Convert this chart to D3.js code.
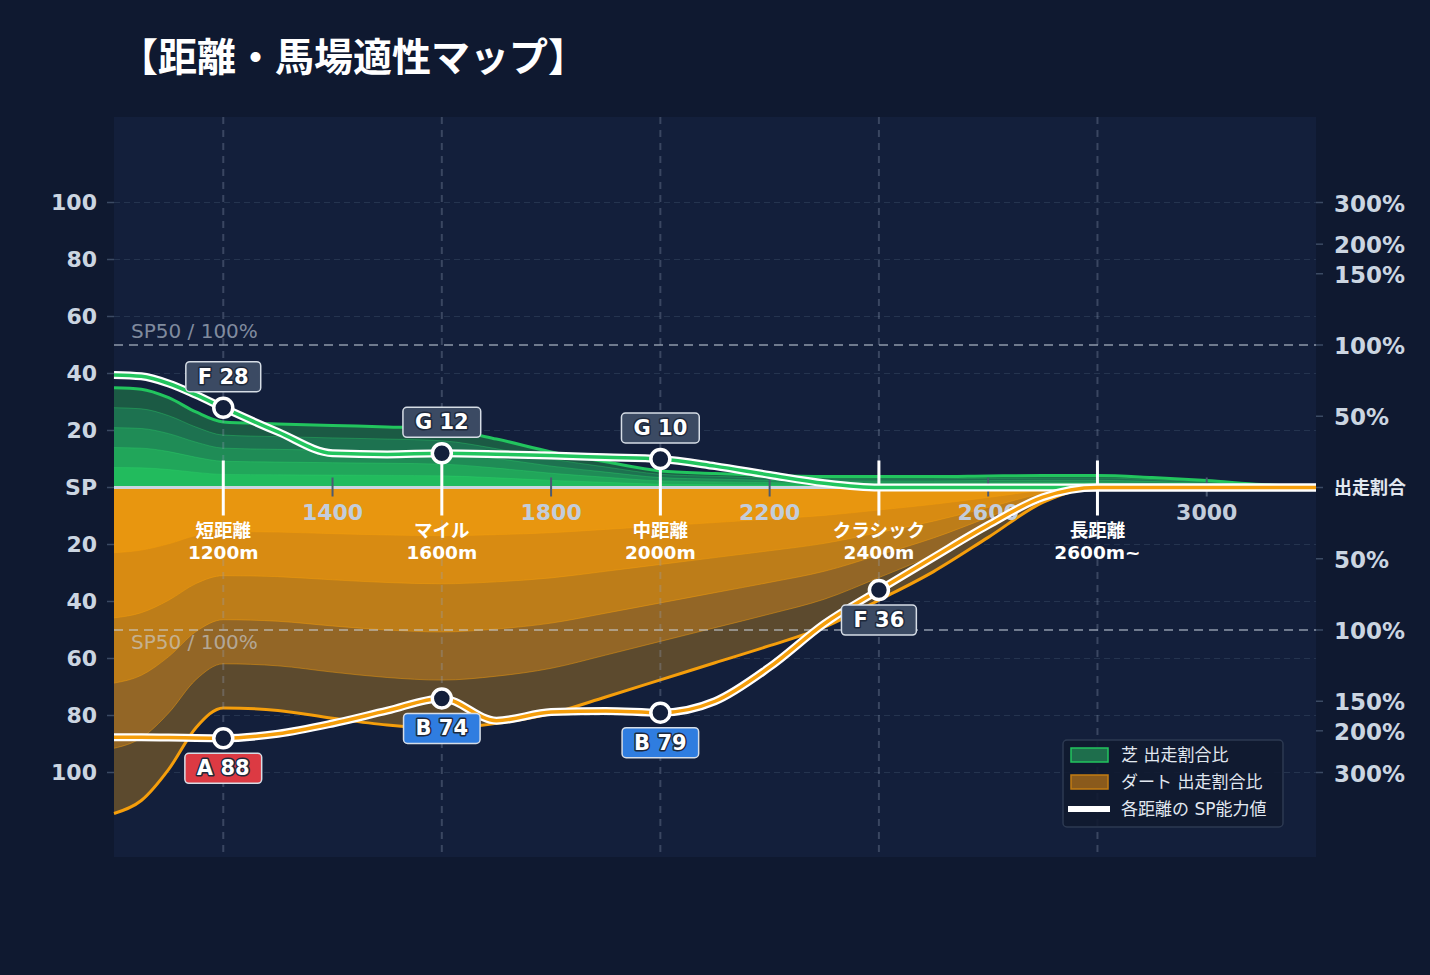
<!DOCTYPE html>
<html>
<head>
<meta charset="utf-8">
<script src="https://cdn.jsdelivr.net/npm/d3@7"></script>
<style>
body { margin: 0; background: #0f1930; }
svg { display: block; font-family: "DejaVu Sans", "Noto Sans CJK JP", sans-serif; }
</style>
</head>
<body>
<svg id="chart" width="1430" height="975"></svg>
<script>
// DATA
const distances = [1000, 1050, 1100, 1150, 1200, 1300, 1400, 1500, 1600, 1700, 1800, 1900, 2000,
                   2100, 2200, 2300, 2400, 2500, 2600, 2700, 2800, 2900, 3000, 3100, 3200]
// 出走割合比 (%)
const turfShare = [70, 69, 63, 53, 46, 44.6, 43.5, 42.5, 41, 34, 25, 18, 11.6,
                   9.8, 8.4, 7.7, 7.7, 7.7, 8.1, 8.4, 8.4, 7, 4.9, 2.1, 0.4]
const dirtShare = [447, 394, 291, 194, 160, 164, 177, 189, 195, 186, 169, 147, 135,
                   123, 111, 98, 79, 59, 35, 10.5, 0, 0, 0, 0, 0]
// SP能力値
const turfSP = [39.5, 39, 36.5, 32.5, 28, 19.5, 12, 11.6, 12, 11.7, 11.2, 10.6, 10,
                7.5, 4.4, 1.5, 0, 0, 0, 0, 0, 0, 0, 0, 0]
const dirtSP = [87.6, 87.6, 87.7, 87.9, 88, 86.4, 82.8, 78.3, 74, 81.8, 78.8, 78.4, 79,
                75, 63, 47.8, 36, 24.5, 13.2, 3.4, 0, 0, 0, 0, 0]

const categories = ["短距離", "マイル", "中距離", "クラシック", "長距離"]
const categorySub = ["1200m", "1600m", "2000m", "2400m", "2600m~"]
const categoryDist = [1200, 1600, 2000, 2400, 2800]
const turfGrade = ["F", "G", "G", "", ""]
const dirtGrade = ["A", "B", "B", "F", ""]

const xTicks = [1400, 1800, 2200, 2600, 3000]
const spTicks = [100, 80, 60, 40, 20, 0, -20, -40, -60, -80, -100]
const pctTicks = [300, 200, 150, 100, 50]

// LAYOUT
const W = 1430, H = 975
const plot = { left: 114, right: 1316, top: 117, bottom: 857 }

const x = d3.scaleLinear().domain([1000, 3200]).range([plot.left, plot.right])
const y = d3.scaleLinear().domain([-130, 130]).range([858, 117])

// ratio % -> SP axis units (linear up to 150%, log beyond)
const pct2sp = p => p <= 150 ? p / 2 : 75 + 25 * Math.log2(p / 150)

const rows = distances.map((d, i) => ({
    d: d,
    turf: pct2sp(turfShare[i]),
    dirt: pct2sp(dirtShare[i]),
    tsp: turfSP[i],
    dsp: dirtSP[i]
}))

const gradeFill = { A: "#dc3a43", B: "#2f7de0", F: "#3b4a63", G: "#3b4a63" }
const layers = [1, 0.8, 0.6, 0.4, 0.2]
const greenFills = ["#1b5a44", "#1d7250", "#1f8c56", "#21a65a", "#22bb5d"]
const orangeFills = ["#5c4a2e", "#936626", "#bd7d19", "#d88b12", "#e8960f"]
const curve = d3.curveMonotoneX

const svg = d3.select("#chart")

svg.append("rect").attr("width", W).attr("height", H).attr("fill", "#0f1930")
svg.append("rect")
    .attr("x", plot.left).attr("y", plot.top)
    .attr("width", plot.right - plot.left).attr("height", plot.bottom - plot.top)
    .attr("fill", "#131f3b")

// fine horizontal grid
svg.append("g").selectAll("line")
    .data(spTicks.filter(d => d !== 0)).join("line")
    .attr("x1", plot.left).attr("x2", plot.right)
    .attr("y1", d => y(d)).attr("y2", d => y(d))
    .attr("stroke", "#25344f").attr("stroke-width", 1.2).attr("stroke-dasharray", "6,4")

// stacked share areas
const gAreas = svg.append("g")
layers.forEach((k, i) => {
    gAreas.append("path").datum(rows)
        .attr("d", d3.area().x(r => x(r.d)).y0(y(0)).y1(r => y(r.turf * k)).curve(curve))
        .attr("fill", greenFills[i])
    gAreas.append("path").datum(rows)
        .attr("d", d3.area().x(r => x(r.d)).y0(y(0)).y1(r => y(-r.dirt * k)).curve(curve))
        .attr("fill", orangeFills[i])
})
layers.slice(1).forEach(k => {
    gAreas.append("path").datum(rows)
        .attr("d", d3.line().x(r => x(r.d)).y(r => y(r.turf * k)).curve(curve))
        .attr("fill", "none").attr("stroke", "#2ed36a").attr("stroke-opacity", 0.35).attr("stroke-width", 1)
    gAreas.append("path").datum(rows)
        .attr("d", d3.line().x(r => x(r.d)).y(r => y(-r.dirt * k)).curve(curve))
        .attr("fill", "none").attr("stroke", "#f59e0b").attr("stroke-opacity", 0.45).attr("stroke-width", 1)
})

// envelope lines
svg.append("path").datum(rows)
    .attr("d", d3.line().x(r => x(r.d)).y(r => y(r.turf)).curve(curve))
    .attr("fill", "none").attr("stroke", "#22c55e").attr("stroke-width", 3)
svg.append("path").datum(rows)
    .attr("d", d3.line().x(r => x(r.d)).y(r => y(-r.dirt)).curve(curve))
    .attr("fill", "none").attr("stroke", "#f59e0b").attr("stroke-width", 3)

// baseline
svg.append("line")
    .attr("x1", plot.left).attr("x2", plot.right).attr("y1", y(0)).attr("y2", y(0))
    .attr("stroke", "#cbd5e1").attr("stroke-width", 3)

// SP50 / 100% reference lines
svg.append("g").selectAll("line").data([50, -50]).join("line")
    .attr("x1", plot.left).attr("x2", plot.right)
    .attr("y1", d => y(d)).attr("y2", d => y(d))
    .attr("stroke", "rgba(203,213,225,0.5)").attr("stroke-width", 1.8).attr("stroke-dasharray", "9,6")
svg.append("g").selectAll("text").data([50, -50]).join("text")
    .attr("x", plot.left + 17)
    .attr("y", d => d > 0 ? y(d) - 14 : y(d) + 12)
    .attr("dominant-baseline", "central")
    .attr("font-size", 20).attr("fill", "rgba(203,213,225,0.6)")
    .text("SP50 / 100%")

// vertical category guides
svg.append("g").selectAll("line").data(categoryDist).join("line")
    .attr("x1", d => x(d)).attr("x2", d => x(d))
    .attr("y1", plot.top).attr("y2", plot.bottom)
    .attr("stroke", "rgba(148,163,184,0.3)").attr("stroke-width", 2).attr("stroke-dasharray", "7,6")

// distance ticks
const gx = svg.append("g")
gx.selectAll("line").data(xTicks).join("line")
    .attr("x1", d => x(d)).attr("x2", d => x(d))
    .attr("y1", y(0) - 10).attr("y2", y(0) + 9)
    .attr("stroke", "#4b5a72").attr("stroke-width", 2)
gx.selectAll("text").data(xTicks).join("text")
    .attr("x", d => x(d)).attr("y", y(0) + 25)
    .attr("text-anchor", "middle").attr("dominant-baseline", "central")
    .attr("font-size", 22).attr("font-weight", "bold").attr("fill", "#c3cddb")
    .text(d => d)

// category markers and labels
const gc = svg.append("g")
gc.selectAll("line").data(categoryDist).join("line")
    .attr("x1", d => x(d)).attr("x2", d => x(d))
    .attr("y1", y(0) - 27).attr("y2", y(0) + 28)
    .attr("stroke", "#ffffff").attr("stroke-width", 3)
gc.selectAll("text.cat").data(categories).join("text").attr("class", "cat")
    .attr("x", (d, i) => x(categoryDist[i])).attr("y", y(0) + 43)
    .attr("text-anchor", "middle").attr("dominant-baseline", "central")
    .attr("font-size", 18.5).attr("font-weight", "bold").attr("fill", "#ffffff")
    .text(d => d)
gc.selectAll("text.sub").data(categorySub).join("text").attr("class", "sub")
    .attr("x", (d, i) => x(categoryDist[i])).attr("y", y(0) + 65)
    .attr("text-anchor", "middle").attr("dominant-baseline", "central")
    .attr("font-size", 18.5).attr("font-weight", "bold").attr("fill", "#ffffff")
    .text(d => d)

// SP lines
const spSeries = [
    { key: "tsp", sign: 1, core: "#22c55e", grades: turfGrade },
    { key: "dsp", sign: -1, core: "#f59e0b", grades: dirtGrade }
]
spSeries.forEach(s => {
    const line = d3.line().x(r => x(r.d)).y(r => y(s.sign * r[s.key])).curve(curve)
    svg.append("path").datum(rows).attr("d", line)
        .attr("fill", "none").attr("stroke", "#ffffff").attr("stroke-width", 8)
    svg.append("path").datum(rows).attr("d", line)
        .attr("fill", "none").attr("stroke", s.core).attr("stroke-width", 3.5)
})

// markers + grade labels
spSeries.forEach(s => {
    const pts = categoryDist.map((d, i) => {
        const v = rows.find(r => r.d === d)[s.key]
        return { d: d, v: v, grade: s.grades[i] }
    }).filter(p => p.v > 0 && p.grade)

    const g = svg.append("g")
    g.selectAll("circle").data(pts).join("circle")
        .attr("cx", p => x(p.d)).attr("cy", p => y(s.sign * p.v)).attr("r", 9.5)
        .attr("fill", "#131f3b").attr("stroke", "#ffffff").attr("stroke-width", 3.5)

    pts.forEach(p => {
        const cx = x(p.d), cy = y(s.sign * p.v)
        const lab = g.append("g")
        const box = lab.append("rect")
        const t = lab.append("text")
            .attr("x", cx).attr("text-anchor", "middle").attr("dominant-baseline", "central")
            .attr("font-size", 21).attr("font-weight", "bold")
            .attr("fill", "#ffffff").attr("stroke", "#1e293b").attr("stroke-width", 3)
            .attr("paint-order", "stroke").attr("stroke-linejoin", "round")
            .text(p.grade + " " + Math.round(p.v))
        const tw = t.node().getComputedTextLength()
        const bw = tw + 24, bh = 30
        const by = s.sign > 0 ? cy - 16 - bh : cy + 15
        t.attr("y", by + bh / 2)
        box.attr("x", cx - bw / 2).attr("y", by).attr("width", bw).attr("height", bh).attr("rx", 4)
            .attr("fill", gradeFill[p.grade]).attr("stroke", "#d6dde6").attr("stroke-width", 1.5)
    })
})

// left axis
const gl = svg.append("g")
gl.selectAll("line").data(spTicks).join("line")
    .attr("x1", plot.left - 7).attr("x2", plot.left)
    .attr("y1", d => y(d)).attr("y2", d => y(d))
    .attr("stroke", "#3b4a63").attr("stroke-width", 1.5)
gl.selectAll("text").data(spTicks).join("text")
    .attr("x", 97).attr("y", d => y(d))
    .attr("text-anchor", "end").attr("dominant-baseline", "central")
    .attr("font-size", 22).attr("font-weight", "bold").attr("fill", "#cbd5e1")
    .text(d => d === 0 ? "SP" : Math.abs(d))

// right axis (出走割合)
const rightTicks = pctTicks.map(p => ({ p: p, v: pct2sp(p) }))
    .concat(pctTicks.slice().reverse().map(p => ({ p: p, v: -pct2sp(p) })))
const gr = svg.append("g")
gr.selectAll("line").data(rightTicks.concat([{ p: 0, v: 0 }])).join("line")
    .attr("x1", plot.right).attr("x2", plot.right + 7)
    .attr("y1", d => y(d.v)).attr("y2", d => y(d.v))
    .attr("stroke", "#3b4a63").attr("stroke-width", 1.5)
gr.selectAll("text").data(rightTicks).join("text")
    .attr("x", plot.right + 18).attr("y", d => y(d.v) + 1)
    .attr("dominant-baseline", "central")
    .attr("font-size", 23).attr("font-weight", "bold").attr("fill", "#cbd5e1")
    .text(d => d.p + "%")
gr.append("text")
    .attr("x", plot.right + 18).attr("y", y(0))
    .attr("dominant-baseline", "central")
    .attr("font-size", 18).attr("font-weight", "bold").attr("fill", "#e2e8f0")
    .text("出走割合")

// title
svg.append("text")
    .attr("x", 119).attr("y", 54)
    .attr("dominant-baseline", "central")
    .attr("font-family", "'Noto Sans CJK JP', sans-serif")
    .attr("font-size", 39).attr("font-weight", "bold").attr("fill", "#ffffff")
    .text("【距離・馬場適性マップ】")

// legend
const lg = svg.append("g").attr("transform", "translate(1063,740)")
lg.append("rect").attr("width", 220).attr("height", 87).attr("rx", 4)
    .attr("fill", "#111a30").attr("fill-opacity", 0.9)
    .attr("stroke", "#2d3a52").attr("stroke-width", 1.5)
const legendItems = [
    { label: "芝 出走割合比", fill: "#1e6e4c", stroke: "#22c55e" },
    { label: "ダート 出走割合比", fill: "#8a5a1c", stroke: "#c27c12" },
    { label: "各距離の SP能力値", line: true }
]
legendItems.forEach((it, i) => {
    const cy = 15 + i * 27
    if (it.line) {
        lg.append("line").attr("x1", 5).attr("x2", 47).attr("y1", cy).attr("y2", cy)
            .attr("stroke", "#ffffff").attr("stroke-width", 6)
    } else {
        lg.append("rect").attr("x", 8).attr("y", cy - 7).attr("width", 37).attr("height", 14)
            .attr("fill", it.fill).attr("stroke", it.stroke).attr("stroke-width", 1.5)
    }
    lg.append("text").attr("x", 58).attr("y", cy)
        .attr("dominant-baseline", "central")
        .attr("font-size", 17).attr("fill", "#e2e8f0")
        .text(it.label)
})
</script>
</body>
</html>
